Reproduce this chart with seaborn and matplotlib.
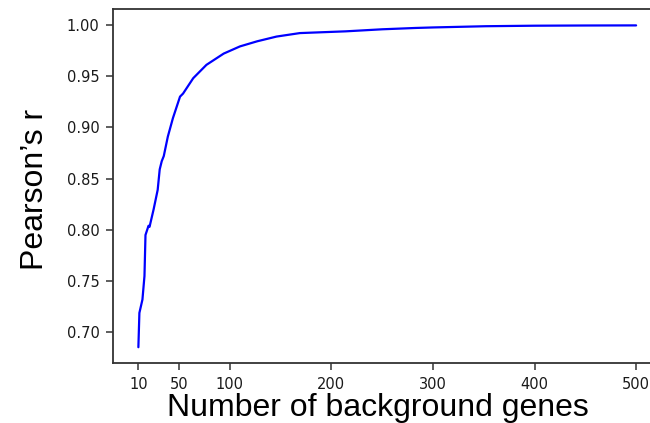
import matplotlib
matplotlib.use("Agg")
import matplotlib.pyplot as plt
import seaborn as sns
import pandas as pd

# Correlation of scores vs. number of background genes used
n_background = [10, 11, 14, 16, 17, 20, 21, 25, 29, 31, 33, 35, 39, 44, 51, 54,
                64, 77, 94, 110, 127, 146, 169, 214, 250, 283, 300, 352, 400, 450, 500]
pearson_r = [0.6855, 0.719, 0.732, 0.755, 0.795, 0.804, 0.803, 0.820, 0.839, 0.859,
             0.867, 0.872, 0.891, 0.909, 0.930, 0.933, 0.948, 0.961, 0.972, 0.979,
             0.984, 0.9886, 0.992, 0.9937, 0.9957, 0.997, 0.9975, 0.9987, 0.9992,
             0.9994, 0.9995]
x_ticks = [10, 50, 100, 200, 300, 400, 500]
y_ticks = [0.70, 0.75, 0.80, 0.85, 0.90, 0.95, 1.00]

df = pd.DataFrame({"n": n_background, "r": pearson_r})

sns.set_style("ticks")
plt.rcParams["font.family"] = ["DejaVu Sans"]

fig = plt.figure(figsize=(6.5, 4.23), dpi=100)
ax = fig.add_axes([0.1746, 0.1411, 0.8423, 0.8369])

sns.lineplot(data=df, x="n", y="r", color="blue", linewidth=1.6, ax=ax)

ax.set_xticks(x_ticks)
ax.set_yticks(y_ticks)
ax.set_yticklabels([f"{v:.2f}" for v in y_ticks])

for side in ["left", "bottom", "top"]:
    ax.spines[side].set_visible(True)
    ax.spines[side].set_color("#333333")
    ax.spines[side].set_linewidth(1.3)
ax.spines["right"].set_visible(False)

ax.tick_params(axis="both", labelsize=10.5, length=5, width=1.1, color="#333333",
               labelcolor="#1a1a1a", pad=5)
for lbl in ax.get_xticklabels() + ax.get_yticklabels():
    lbl.set_family("DejaVu Sans")

label_font = dict(family="Liberation Sans", size=23, color="black")
ax.set_xlabel("Number of background genes", **label_font)
ax.set_ylabel("Pearson\u2019s r", **label_font)
ax.xaxis.set_label_coords(0.4824, -0.084)
ax.yaxis.set_label_coords(-0.1165, 0.49)

fig.savefig("out.png", dpi=100)
